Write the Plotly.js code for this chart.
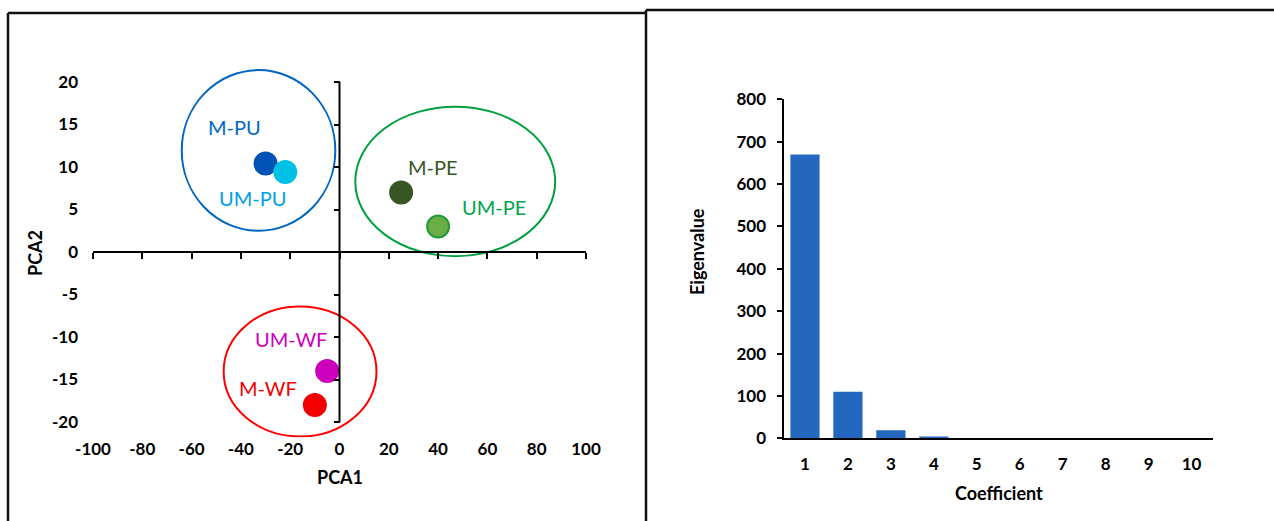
<!DOCTYPE html>
<html>
<head>
<meta charset="utf-8">
<script src="https://cdn.plot.ly/plotly-3.0.1.min.js"></script>
<style>
  html, body { margin: 0; padding: 0; background: #ffffff; }
  #chart { width: 1274px; height: 521px; }
</style>
</head>
<body>
<div id="chart"></div>
<script>
// ---------- Data ----------
const sampleNames = ['M-PU', 'UM-PU', 'M-PE', 'UM-PE', 'UM-WF', 'M-WF'];
const pca1 = [-30, -22, 25, 40, -5, -10];
const pca2 = [10.4, 9.4, 7, 3, -14, -18];

// cluster ellipses (PCA1 / PCA2 extents)
const clusterNames = ['PU', 'PE', 'WF'];
const clusterX0 = [-64, 6.4, -47];
const clusterX1 = [-1.7, 87.5, 15];
const clusterY0 = [2.5, -0.5, -21.7];
const clusterY1 = [21.4, 17.1, -6.4];

const pcaTicksX = [-100, -80, -60, -40, -20, 0, 20, 40, 60, 80, 100];
const pcaTicksY = [-20, -15, -10, -5, 0, 5, 10, 15, 20];

const coefficients = ['1', '2', '3', '4', '5', '6', '7', '8', '9', '10'];
const eigenvalues = [670, 110, 19, 4.5, 0.4, 0.2, 0.1, 0.05, 0.03, 0.01];
const eigenTicks = [0, 100, 200, 300, 400, 500, 600, 700, 800];

// ---------- Styles ----------
const W = 1274, H = 521;
const px = v => v / W;           // horizontal pixel -> paper
const py = v => 1 - v / H;       // vertical pixel -> paper
const FONT = 'Lato, "Open Sans", sans-serif';

const pointFill = ['#0052B4', '#00C0E6', '#375623', '#6AAE45', '#CC00BB', '#F00000'];
const pointLine = ['#0052B4', '#00C0E6', '#375623', '#1F9A3A', '#CC00BB', '#F00000'];
const labelColor = ['#0068C4', '#00A0E8', '#375623', '#00A550', '#CC00BB', '#F00000'];
const labelShiftX = [-31, -33, 32, 56, -36, -47];
const labelShiftY = [37, -26, 25, 20, 32, 17];
const clusterColor = ['#0066C0', '#00A040', '#FF0000'];

// ---------- Traces ----------
const scatter = {
  type: 'scatter', mode: 'markers',
  x: pca1, y: pca2, text: sampleNames,
  xaxis: 'x', yaxis: 'y',
  marker: { size: 22, color: pointFill, line: { color: pointLine, width: 2 } },
  cliponaxis: false,
  hoverinfo: 'text', showlegend: false
};

const bars = {
  type: 'bar',
  x: coefficients, y: eigenvalues,
  xaxis: 'x3', yaxis: 'y3',
  marker: { color: '#2368BE', line: { width: 0 } },
  showlegend: false
};

// dummy (empty) traces to register tick-mark overlay axes
const dummyX2 = { type: 'scatter', x: [], y: [], xaxis: 'x2', yaxis: 'y', showlegend: false, hoverinfo: 'skip' };
const dummyY2 = { type: 'scatter', x: [], y: [], xaxis: 'x', yaxis: 'y2', showlegend: false, hoverinfo: 'skip' };

// ---------- Layout ----------
const tickFont = { family: FONT, size: 17, color: '#000000', weight: 'bold' };
const xDomL = [px(93), px(586)];
const yRangeL = [-21.8, 21.8];
const yDomL = [py(252 + 21.8 * 8.5), py(252 - 21.8 * 8.5)];

const shapes = [];
for (let i = 0; i < clusterNames.length; i++) {
  shapes.push({
    type: 'circle', xref: 'x', yref: 'y',
    x0: clusterX0[i], x1: clusterX1[i], y0: clusterY0[i], y1: clusterY1[i],
    line: { color: clusterColor[i], width: 2 }, layer: 'below'
  });
}
// vertical PCA axis (x = 0) from -20 to 20
shapes.push({ type: 'line', xref: 'x', yref: 'y', x0: 0, x1: 0, y0: pcaTicksY[0], y1: pcaTicksY[pcaTicksY.length - 1],
  line: { color: '#000000', width: 2 }, layer: 'above' });
// panel frames
const frameLine = { color: '#111111', width: 2.5 };
shapes.push({ type: 'line', xref: 'paper', yref: 'paper', x0: px(8), x1: px(646), y0: py(13), y1: py(13), line: frameLine });
shapes.push({ type: 'line', xref: 'paper', yref: 'paper', x0: px(8), x1: px(8), y0: py(13), y1: 0, line: frameLine });
shapes.push({ type: 'line', xref: 'paper', yref: 'paper', x0: px(646), x1: px(646), y0: py(10), y1: 0, line: frameLine });
shapes.push({ type: 'line', xref: 'paper', yref: 'paper', x0: px(646), x1: 1, y0: py(10), y1: py(10), line: frameLine });

const annotations = sampleNames.map((name, i) => ({
  xref: 'x', yref: 'y', x: pca1[i], y: pca2[i], text: name, showarrow: false,
  xshift: labelShiftX[i], yshift: labelShiftY[i], xanchor: 'center', yanchor: 'middle',
  font: { family: FONT, size: 20, color: labelColor[i] }
}));
const titleFont = { family: FONT, size: 18, color: '#000000', weight: 'bold' };
annotations.push({ xref: 'paper', yref: 'paper', x: px(339.5), y: py(477), text: 'PCA1', showarrow: false, xanchor: 'center', yanchor: 'middle', font: titleFont });
annotations.push({ xref: 'paper', yref: 'paper', x: px(35), y: py(253), text: 'PCA2', textangle: -90, showarrow: false, xanchor: 'center', yanchor: 'middle', font: titleFont });
annotations.push({ xref: 'paper', yref: 'paper', x: px(697), y: py(252), text: 'Eigenvalue', textangle: -90, showarrow: false, xanchor: 'center', yanchor: 'middle', font: titleFont });
annotations.push({ xref: 'paper', yref: 'paper', x: px(999), y: py(493), text: 'Coefficient', showarrow: false, xanchor: 'center', yanchor: 'middle', font: titleFont });

const layout = {
  width: W, height: H,
  margin: { l: 0, r: 0, t: 0, b: 0, pad: 0 },
  paper_bgcolor: '#ffffff', plot_bgcolor: 'rgba(0,0,0,0)',
  showlegend: false,
  font: { family: FONT, color: '#000000' },
  // PCA scatter: labels axes
  xaxis: {
    domain: xDomL, range: [pcaTicksX[0], pcaTicksX[pcaTicksX.length - 1]], anchor: 'y',
    tickmode: 'array', tickvals: pcaTicksX, ticktext: pcaTicksX.map(String),
    ticks: '', showline: false, showgrid: false, zeroline: false,
    tickfont: tickFont, ticklabelstandoff: 0, fixedrange: true
  },
  yaxis: {
    domain: yDomL, range: yRangeL, anchor: 'x',
    tickmode: 'array', tickvals: pcaTicksY, ticktext: pcaTicksY.map(String),
    ticks: '', showline: false, showgrid: false, zeroline: false,
    tickfont: tickFont, ticklabelstandoff: 14, fixedrange: true
  },
  // tick marks on the crossing axes
  xaxis2: {
    overlaying: 'x', anchor: 'free', position: (yDomL[0] + yDomL[1]) / 2, side: 'bottom',
    range: [pcaTicksX[0], pcaTicksX[pcaTicksX.length - 1]],
    tickmode: 'array', tickvals: pcaTicksX, ticks: 'outside', ticklen: 6, tickwidth: 2, tickcolor: '#000000',
    showticklabels: false, showline: true, linecolor: '#000000', linewidth: 2, showgrid: false, zeroline: false, fixedrange: true
  },
  yaxis2: {
    overlaying: 'y', anchor: 'free', position: (xDomL[0] + xDomL[1]) / 2, side: 'left',
    range: yRangeL,
    tickmode: 'array', tickvals: pcaTicksY, ticks: 'outside', ticklen: 6, tickwidth: 2, tickcolor: '#000000',
    showticklabels: false, showline: false, showgrid: false, zeroline: false, fixedrange: true
  },
  // eigenvalue bars
  xaxis3: {
    domain: [px(783.5), px(1213)], anchor: 'y3', type: 'category',
    ticks: '', showline: true, linecolor: '#000000', linewidth: 2, showgrid: false, zeroline: false,
    tickfont: tickFont, ticklabelstandoff: 9, fixedrange: true
  },
  yaxis3: {
    domain: [py(438.3), py(99.3)], anchor: 'x3', range: [0, 800],
    tickmode: 'array', tickvals: eigenTicks, ticks: 'outside', ticklen: 5, tickwidth: 2, tickcolor: '#000000',
    showline: true, linecolor: '#000000', linewidth: 2, showgrid: false, zeroline: false,
    tickfont: tickFont, ticklabelstandoff: 7, fixedrange: true
  },
  bargap: 0.32,
  shapes: shapes,
  annotations: annotations
};

Plotly.newPlot('chart', [scatter, dummyX2, dummyY2, bars], layout, { displayModeBar: false, staticPlot: true });
</script>
</body>
</html>
